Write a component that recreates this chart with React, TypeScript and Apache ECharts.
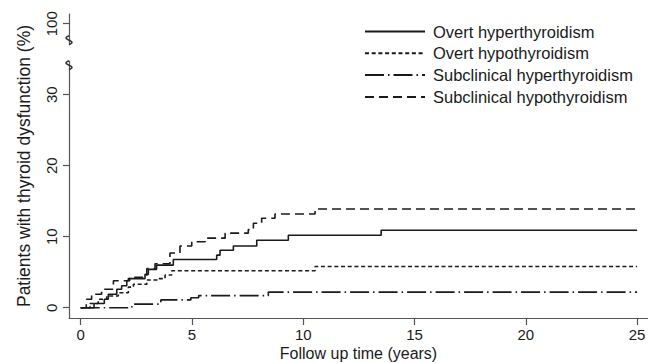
import React, { useEffect, useRef } from "react";
import * as echarts from "echarts";

// ---- data (years, cumulative % of patients) ----
const seriesNames = [
  "Overt hyperthyroidism",
  "Overt hypothyroidism",
  "Subclinical hyperthyroidism",
  "Subclinical hypothyroidism",
];

const overtHyperT = [0, 0.6, 1.06, 1.24, 1.62, 1.84, 2.07, 2.14, 2.89, 3.04, 3.41, 4.16, 6.11, 6.26, 6.86, 7.91, 9.33, 13.5, 25];
const overtHyperV = [0, 0.6, 1.2, 1.9, 2.6, 3.1, 3.8, 4.1, 4.7, 5.4, 6.0, 6.8, 7.4, 8.1, 8.7, 9.5, 10.2, 10.9, 10.9];

const overtHypoT = [0, 0.42, 0.79, 1.17, 1.69, 2.14, 2.37, 2.97, 3.49, 3.79, 4.09, 10.53, 25];
const overtHypoV = [0, 0.6, 1.2, 1.65, 2.1, 2.9, 3.3, 3.9, 4.1, 4.6, 5.2, 5.8, 5.8];

const subHyperT = [0, 2.3, 3.6, 4.95, 5.3, 8.43, 25];
const subHyperV = [0, 0.5, 1.1, 1.4, 1.7, 2.2, 2.2];

const subHypoT = [0, 0.25, 0.49, 0.94, 1.47, 2.2, 2.97, 3.34, 4.01, 4.46, 4.99, 5.59, 6.49, 7.53, 7.76, 8.13, 8.73, 10.53, 25];
const subHypoV = [0, 1.2, 1.9, 2.6, 3.8, 4.3, 5.5, 6.2, 7.7, 8.7, 9.3, 9.8, 10.5, 11.0, 11.9, 12.6, 13.2, 13.9, 13.9];

const xTickValues = [0, 5, 10, 15, 20, 25];
const yTickValues = [0, 10, 20, 30, 40];
const yTickLabels = ["0", "10", "20", "30", "100"];

const FONT = "'Liberation Sans', Arial, Helvetica, sans-serif";
const LINE = "#1a1a1a";
const AXIS = "#555";

const zip = (t: number[], v: number[]) => t.map((x, i) => [x, v[i]]);

const lineTypes: any[] = ["solid", [4, 2.7], [19, 4, 1.5, 4], [9, 5]];
const datasets = [
  zip(overtHyperT, overtHyperV),
  zip(overtHypoT, overtHypoV),
  zip(subHyperT, subHyperV),
  zip(subHypoT, subHypoV),
];

export default function App() {
  const ref = useRef<HTMLDivElement>(null);
  useEffect(() => {
    const chart = echarts.init(ref.current!, null, { renderer: "svg" });
    chart.setOption({
      animation: false,
      backgroundColor: "#fff",
      textStyle: { fontFamily: FONT },
      grid: { left: 69, right: 0, top: 14, bottom: 45, outerBoundsMode: "none", containLabel: false },
      legend: {
        orient: "vertical",
        left: 359,
        top: 18,
        itemWidth: 60,
        itemHeight: 14,
        itemGap: 4.8,
        selectedMode: false,
        itemStyle: { opacity: 0 },
        textStyle: { fontSize: 16.5, color: LINE, fontFamily: FONT, padding: [0, 0, 0, 3] },
        data: seriesNames,
      },
      xAxis: {
        type: "value",
        min: -0.526,
        max: 25.49,
        name: "Follow up time (years)",
        nameLocation: "middle",
        nameGap: 27,
        nameMoveOverlap: false,
        nameTextStyle: { fontSize: 16, color: LINE, fontFamily: FONT, lineHeight: 16 },
        axisLine: { show: true, onZero: false, lineStyle: { color: AXIS, width: 1.2 } },
        axisTick: { show: true, length: 7, customValues: xTickValues, lineStyle: { color: AXIS, width: 1.2 } },
        axisLabel: { customValues: xTickValues, fontSize: 15, lineHeight: 15, color: LINE, margin: 9, fontFamily: FONT },
        splitLine: { show: false },
      },
      yAxis: {
        type: "value",
        min: -1.45,
        max: 41.37,
        name: "Patients with thyroid dysfunction (%)",
        nameLocation: "middle",
        nameRotate: 90,
        nameGap: 36,
        nameMoveOverlap: false,
        nameTextStyle: { fontSize: 17.5, color: LINE, fontFamily: FONT },
        axisLine: { show: true, onZero: false, lineStyle: { color: AXIS, width: 1.2 } },
        axisTick: { show: true, length: 6, customValues: yTickValues, lineStyle: { color: AXIS, width: 1.2 } },
        axisLabel: {
          customValues: yTickValues,
          rotate: 90,
          fontSize: 15,
          color: LINE,
          margin: 10,
          fontFamily: FONT,
          formatter: (v: number) => {
            const i = yTickValues.indexOf(v);
            return i >= 0 ? yTickLabels[i] : "";
          },
        },
        splitLine: { show: false },
      },
      series: seriesNames.map((name, i) => ({
        name,
        type: "line",
        step: "end",
        symbol: "none",
        showSymbol: false,
        data: datasets[i],
        itemStyle: { color: LINE },
        lineStyle: { color: LINE, width: 1.6, type: lineTypes[i] },
      })),
    });

    // axis break marks on the y axis between 30 and 100
    const axX = chart.convertToPixel({ xAxisIndex: 0 }, -0.526) as number;
    const y100 = chart.convertToPixel({ yAxisIndex: 0 }, 40) as number;
    const y30 = chart.convertToPixel({ yAxisIndex: 0 }, 30) as number;
    const b1 = y100 + 12;
    const b2 = y30 - 34;
    const h = 9;
    const squiggle = (y0: number) => {
      const pts: number[][] = [];
      for (let k = 0; k <= 12; k++) {
        pts.push([axX - 3 * Math.sin((2 * Math.PI * k) / 12), y0 + (h * k) / 12]);
      }
      return {
        type: "polyline",
        shape: { points: pts },
        style: { stroke: "#333", lineWidth: 1.5, fill: null },
        z: 101,
      };
    };
    chart.setOption({
      graphic: [
        { type: "rect", shape: { x: axX - 4, y: b1 + h, width: 8, height: b2 - b1 - h }, style: { fill: "#fff" }, z: 100 },
        squiggle(b1),
        squiggle(b2),
      ],
    });
    return () => chart.dispose();
  }, []);
  return <div ref={ref} style={{ position: "absolute", left: 0, top: 0, width: 648, height: 363 }} />;
}
